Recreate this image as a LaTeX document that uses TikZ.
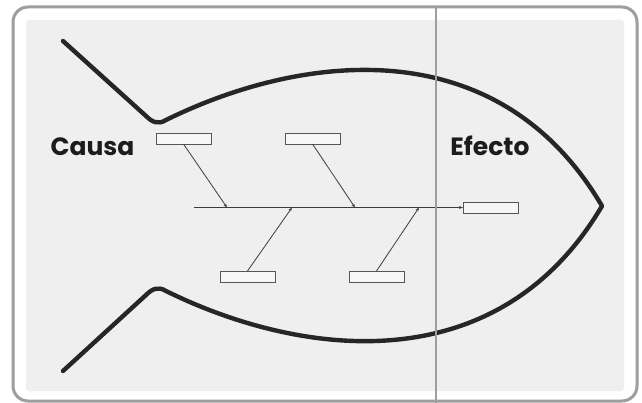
\documentclass[tikz,border=0pt]{standalone}
\usepackage{fontspec}
\setmainfont{Poppins}
\usetikzlibrary{arrows.meta}
\definecolor{frame}{HTML}{9E9E9E}
\definecolor{panel}{HTML}{EFEFEF}
\definecolor{fish}{HTML}{262626}
\definecolor{ink}{HTML}{1C1C1C}
\definecolor{boxline}{HTML}{555555}
\definecolor{boxfill}{HTML}{F6F6F6}
\tikzset{
  causebox/.style={draw=boxline, fill=boxfill, line width=0.9pt, minimum width=55pt, minimum height=11pt, inner sep=0pt, outer sep=0pt},
  bone/.style={draw=fish!90, line width=0.8pt, -{Stealth[length=4pt,width=3pt]}},
  fishline/.style={draw=fish, line width=4.4pt, line cap=round, line join=round},
  label/.style={font=\bfseries\fontsize{25}{30}\selectfont, text=ink, inner sep=0pt, anchor=base},
}
\begin{document}
\begin{tikzpicture}[x=1pt,y=-1pt]
\useasboundingbox (0,0) rectangle (642,403);
\fill[white] (0,0) rectangle (642,403);
% frame
\draw[frame, line width=3pt, rounded corners=15pt] (13,7) rectangle (637,401);
\fill[panel, rounded corners=3pt] (26,20) rectangle (624,391);
% fish
\draw[fishline] (63,41) -- (146,116) .. controls (152,122) and (158,125) .. (166,120)
   .. controls (300,54) and (497,27.5) .. (602,206)
   .. controls (497,383.5) and (300,357) .. (166,291)
   .. controls (158,286) and (152,289) .. (146,295) -- (63,371);
% labels
\node[label] (causa) at (92.5,156) {Causa};
\node[label] (efecto) at (490,156) {Efecto};
% boxes
\node[causebox] (b1) at (183.5,138.5) {};
\node[causebox] (b2) at (312.5,138.5) {};
\node[causebox] (b3) at (247.5,276.5) {};
\node[causebox] (b4) at (376.5,276.5) {};
\node[causebox] (eff) at (490.5,207.5) {};
% spine
\coordinate (sp0) at (194,207.5);
\coordinate (j1) at (227,207.5);
\coordinate (j2) at (355,207.5);
\coordinate (j3) at (292,207.5);
\coordinate (j4) at (419,207.5);
\draw[bone] (sp0) -- (eff.west);
\draw[bone] (b1.south) -- (j1);
\draw[bone] (b2.south) -- (j2);
\draw[bone] (b3.north) -- (j3);
\draw[bone] (b4.north) -- (j4);
% divider
\coordinate (vt) at (436,7);
\coordinate (vb) at (436,403);
\draw[frame, line width=2.6pt] (vt) -- (vb);
\end{tikzpicture}
\end{document}
